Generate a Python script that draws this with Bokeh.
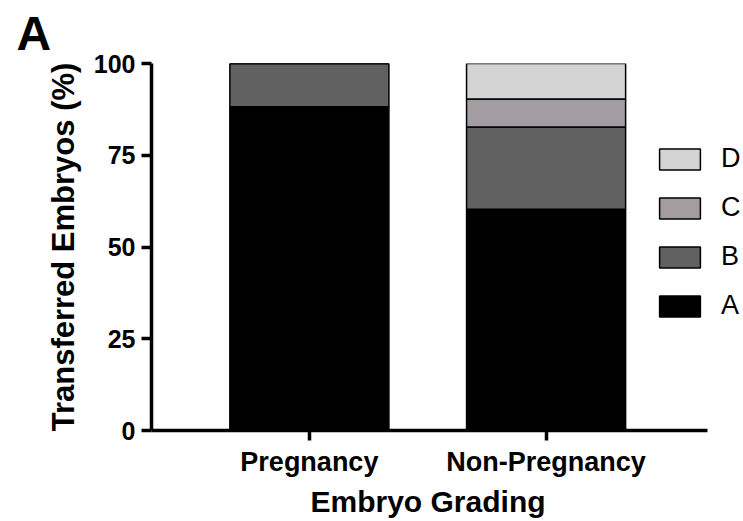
from bokeh.plotting import figure
from bokeh.models import Range1d, Legend, LegendItem, FixedTicker, ColumnDataSource, Title
from bokeh.embed import file_html
from bokeh.resources import INLINE

categories = ["Pregnancy", "Non-Pregnancy"]
grades = ["A", "B", "C", "D"]
grade_A = [88.2, 60.3]
grade_B = [11.8, 22.4]
grade_C = [0.0, 7.6]
grade_D = [0.0, 9.7]
colors = ["#000000", "#616161", "#a39da1", "#d4d4d4"]
y_ticks = [0, 25, 50, 75, 100]

FONT = "Liberation Sans"

xpos = [i + 1 for i in range(len(categories))]
source = ColumnDataSource(data=dict(x=xpos, A=grade_A, B=grade_B, C=grade_C, D=grade_D))

p = figure(width=743, height=521, output_backend="svg", toolbar_location=None,
           x_range=Range1d(0.333, 2.834),
           y_range=Range1d(0, 100),
           min_border_left=151, min_border_right=0, min_border_top=63, min_border_bottom=91)

renderers = p.vbar_stack(grades, x="x", width=0.672, source=source, fill_color=colors,
                         line_color="black", line_width=1.5)

p.outline_line_color = None
p.xgrid.grid_line_color = None
p.ygrid.grid_line_color = None
p.background_fill_color = "white"
p.border_fill_color = "white"

for ax in (p.xaxis, p.yaxis):
    ax.axis_line_width = 3.5
    ax.axis_line_color = "black"
    ax.major_tick_line_width = 3.5
    ax.major_tick_line_color = "black"
    ax.major_tick_out = 10
    ax.major_tick_in = 0
    ax.minor_tick_out = 0
    ax.minor_tick_in = 0
    ax.major_label_text_font = FONT
    ax.major_label_text_font_style = "bold"
    ax.major_label_text_color = "black"
    ax.axis_label_text_font = FONT
    ax.axis_label_text_font_style = "bold"
    ax.axis_label_text_color = "black"

p.yaxis.ticker = FixedTicker(ticks=y_ticks)
p.yaxis.major_label_text_font_size = "25px"
p.yaxis.major_label_standoff = 6
p.yaxis.axis_label = "Transferred Embryos (%)"
p.yaxis.axis_label_text_font_size = "31px"
p.yaxis.axis_label_standoff = 10

p.xaxis.ticker = FixedTicker(ticks=xpos)
p.xaxis.major_label_overrides = {x: c for x, c in zip(xpos, categories)}
p.xaxis.bounds = (0.333, 2.68)
p.xaxis.major_label_text_font_size = "27px"
p.xaxis.major_label_standoff = 6

xlabel = Title(text="Embryo Grading", align="left", offset=159, standoff=7,
               vertical_align="bottom",
               text_font=FONT, text_font_style="bold", text_font_size="30px", text_color="black")
p.add_layout(xlabel, "below")

items = [LegendItem(label=g, renderers=[r]) for g, r in reversed(list(zip(grades, renderers)))]
legend = Legend(items=items, location=(503, 109), orientation="vertical",
                glyph_width=51, glyph_height=26, label_height=26, spacing=18,
                label_standoff=16, padding=0, margin=0,
                label_text_font=FONT, label_text_font_size="27px", label_text_color="black",
                border_line_color=None, background_fill_alpha=0)
p.add_layout(legend, "center")

p.title.text = "A"
p.title.align = "left"
p.title.offset = -135
p.title.standoff = 8
p.title.vertical_align = "bottom"
p.title.text_font = FONT
p.title.text_font_style = "bold"
p.title.text_font_size = "48px"
p.title.text_color = "black"

open("out.html", "w").write(file_html(p, INLINE))
